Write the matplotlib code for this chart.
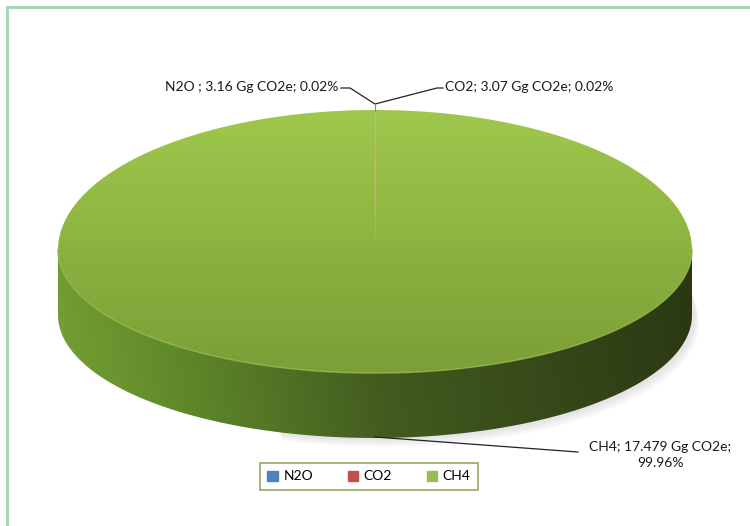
import numpy as np
import matplotlib
matplotlib.use('Agg')
import matplotlib.pyplot as plt
from matplotlib.patches import Polygon, Patch
from matplotlib.colors import LinearSegmentedColormap

# data
gases = ['N2O', 'CO2', 'CH4']
values = [3.16, 3.07, 17479.0]
labels = ['N2O ; 3.16 Gg CO2e; 0.02%', 'CO2; 3.07 Gg CO2e; 0.02%',
          'CH4; 17.479 Gg CO2e;\n99.96%']
legend_colors = ['#4F81BD', '#C0504D', '#9BBB59']

plt.rcParams['font.family'] = ['Lato', 'DejaVu Sans']

fig = plt.figure(figsize=(7.5, 5.26), dpi=100)
ax = fig.add_axes([0, 0, 1, 1])
ax.set_xlim(0, 750)
ax.set_ylim(526, 0)
ax.axis('off')

# outer frame (only top and left visible)
ax.plot([7, 7, 750], [526, 7, 7], color='#A6D9B4', lw=2.2, solid_joinstyle='miter')

# pie geometry (pixels), slight perspective: back half flatter than front
cx, cy, rx, ry_back, ry_front, depth = 375, 250, 317, 140, 123, 65


def pt(t, dy=0):
    c = np.cos(t)
    ry = np.where(c > 0, ry_back, ry_front)
    return cx + rx * np.sin(t), cy - ry * c + dy


fr = np.array(values) / sum(values)
edges = np.concatenate([[0], np.cumsum(fr)]) * 2 * np.pi

# soft shadow
for k in range(8):
    t = np.linspace(np.pi * 0.35, np.pi * 1.1, 100)
    x, y = pt(t, depth + 2 + k)
    x = x + 3 + k * 0.6
    ax.fill(np.r_[x, x[::-1] - 6], np.r_[y, y[::-1] - 14], color='#7a7a7a',
            alpha=0.025, lw=0, zorder=1)

side_cmap = LinearSegmentedColormap.from_list(
    'side', [(0, '#76A234'), (0.2, '#5F882A'), (0.5, '#425B1F'),
             (0.75, '#36491A'), (1, '#2A3812')])
top_cmap = LinearSegmentedColormap.from_list(
    'top', ['#A0C74D', '#93BB44', '#86AD3D', '#7B9E37'])

# side wall (front half)
t = np.linspace(np.pi / 2, 3 * np.pi / 2, 300)
xs, ys = pt(t)
xb, yb = pt(t, depth)
side = Polygon(np.c_[np.r_[xs, xb[::-1]], np.r_[ys, yb[::-1]]], closed=True,
               facecolor='none', edgecolor='none')
ax.add_patch(side)
gx = np.linspace(0, 1, 256)
gy = np.linspace(0, 1, 64)
grad = gx[None, :] * 0.95 + (1 - gy[:, None]) * 0.05
im = ax.imshow(grad, cmap=side_cmap, aspect='auto',
               extent=[cx - rx, cx + rx, cy + depth + ry_front, cy], zorder=2)
im.set_clip_path(side)

# top face slices
for i in range(len(values)):
    tt = np.linspace(edges[i], edges[i + 1], max(2, int(400 * fr[i])))
    x, y = pt(tt)
    poly = Polygon(np.c_[np.r_[cx, x], np.r_[cy, y]], closed=True,
                   facecolor='none', edgecolor='none')
    ax.add_patch(poly)
    g = np.linspace(0, 1, 128)[:, None] * np.ones((1, 4))
    im = ax.imshow(g, cmap=top_cmap, aspect='auto',
                   extent=[cx - rx, cx + rx, cy + ry_front, cy - ry_back], zorder=3)
    im.set_clip_path(poly)

# rim highlight along the front edge of the top face
x, y = pt(t)
ax.plot(x, y, color='#8FB544', lw=1.2, alpha=0.8, zorder=4)

# thin slice boundary line of the tiny slices
x0, y0 = pt(edges[1])
ax.plot([cx, x0], [cy - 40, y0 + 1], color='#C9A27E', lw=1.0, alpha=0.7, zorder=4)

# labels with leader lines
ax.plot([341, 350, 375, 437, 443], [88, 88, 104, 88, 88], color='#222222', lw=0.9, zorder=5)
ax.plot([375, 375], [104, 111], color='#888888', lw=0.8, zorder=5)
ax.text(338, 87, labels[0], ha='right', va='center', fontsize=10, color='#1a1a1a')
ax.text(445, 87, labels[1], ha='left', va='center', fontsize=10, color='#1a1a1a')
ax.plot([375, 578], [437, 452], color='#222222', lw=0.9, zorder=5)
ax.text(660, 455, labels[2], ha='center', va='center', fontsize=10,
        color='#1a1a1a', linespacing=1.35)

# legend
handles = [Patch(facecolor=c, edgecolor=c) for c in legend_colors]
leg = ax.legend(handles, gases, ncol=3, loc='center',
                bbox_to_anchor=(369 / 750, 1 - 476.5 / 526),
                fontsize=10, frameon=True, fancybox=False,
                handlelength=0.75, handleheight=0.75, handletextpad=0.4,
                columnspacing=2.5, borderpad=0.55, borderaxespad=0)
leg.get_frame().set_edgecolor('#77933C')
leg.get_frame().set_linewidth(1.2)

plt.savefig('out.png', dpi=100)
